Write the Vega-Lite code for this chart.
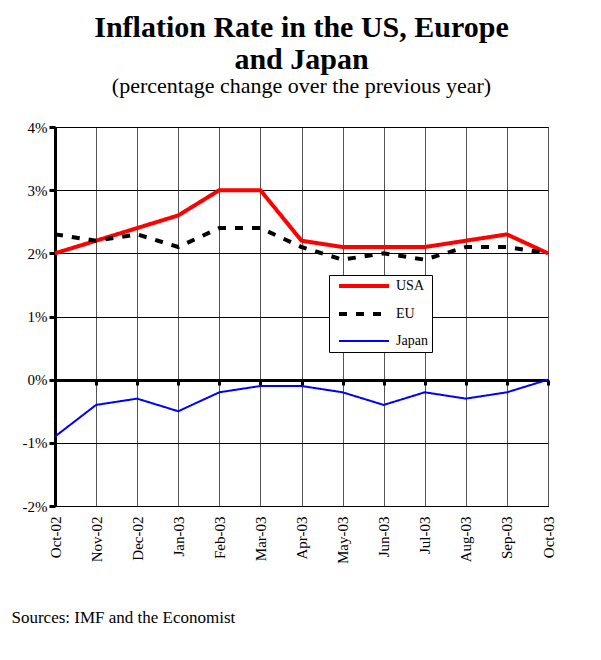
{
  "$schema": "https://vega.github.io/schema/vega-lite/v6.json",
  "width": 493,
  "height": 379,
  "autosize": {"type": "none"},
  "padding": {"left": 55, "top": 127, "right": 53, "bottom": 154},
  "background": "white",
  "title": {
    "text": ["Inflation Rate in the US, Europe", "and Japan"],
    "subtitle": "(percentage change over the previous year)",
    "font": "Liberation Serif",
    "fontSize": 30,
    "fontWeight": "bold",
    "lineHeight": 32,
    "color": "black",
    "subtitleFont": "Liberation Serif",
    "subtitleFontSize": 22,
    "subtitleColor": "black",
    "subtitlePadding": 1,
    "anchor": "middle",
    "frame": "group",
    "offset": 23
  },
  "data": {
    "values": [
      {"month": "Oct-02", "series": "USA", "rate": 2.0},
      {"month": "Nov-02", "series": "USA", "rate": 2.2},
      {"month": "Dec-02", "series": "USA", "rate": 2.4},
      {"month": "Jan-03", "series": "USA", "rate": 2.6},
      {"month": "Feb-03", "series": "USA", "rate": 3.0},
      {"month": "Mar-03", "series": "USA", "rate": 3.0},
      {"month": "Apr-03", "series": "USA", "rate": 2.2},
      {"month": "May-03", "series": "USA", "rate": 2.1},
      {"month": "Jun-03", "series": "USA", "rate": 2.1},
      {"month": "Jul-03", "series": "USA", "rate": 2.1},
      {"month": "Aug-03", "series": "USA", "rate": 2.2},
      {"month": "Sep-03", "series": "USA", "rate": 2.3},
      {"month": "Oct-03", "series": "USA", "rate": 2.0},
      {"month": "Oct-02", "series": "EU", "rate": 2.3},
      {"month": "Nov-02", "series": "EU", "rate": 2.2},
      {"month": "Dec-02", "series": "EU", "rate": 2.3},
      {"month": "Jan-03", "series": "EU", "rate": 2.1},
      {"month": "Feb-03", "series": "EU", "rate": 2.4},
      {"month": "Mar-03", "series": "EU", "rate": 2.4},
      {"month": "Apr-03", "series": "EU", "rate": 2.1},
      {"month": "May-03", "series": "EU", "rate": 1.9},
      {"month": "Jun-03", "series": "EU", "rate": 2.0},
      {"month": "Jul-03", "series": "EU", "rate": 1.9},
      {"month": "Aug-03", "series": "EU", "rate": 2.1},
      {"month": "Sep-03", "series": "EU", "rate": 2.1},
      {"month": "Oct-03", "series": "EU", "rate": 2.0},
      {"month": "Oct-02", "series": "Japan", "rate": -0.9},
      {"month": "Nov-02", "series": "Japan", "rate": -0.4},
      {"month": "Dec-02", "series": "Japan", "rate": -0.3},
      {"month": "Jan-03", "series": "Japan", "rate": -0.5},
      {"month": "Feb-03", "series": "Japan", "rate": -0.2},
      {"month": "Mar-03", "series": "Japan", "rate": -0.1},
      {"month": "Apr-03", "series": "Japan", "rate": -0.1},
      {"month": "May-03", "series": "Japan", "rate": -0.2},
      {"month": "Jun-03", "series": "Japan", "rate": -0.4},
      {"month": "Jul-03", "series": "Japan", "rate": -0.2},
      {"month": "Aug-03", "series": "Japan", "rate": -0.3},
      {"month": "Sep-03", "series": "Japan", "rate": -0.2},
      {"month": "Oct-03", "series": "Japan", "rate": 0.0}
    ]
  },
  "layer": [
    {
      "mark": {"type": "line", "clip": false},
      "encoding": {
        "x": {
          "field": "month", "type": "ordinal", "sort": null,
          "scale": {"type": "point", "padding": 0},
          "axis": {
            "orient": "bottom",
            "title": "Sources: IMF and the Economist",
            "titleFont": "Liberation Serif",
            "titleFontSize": 17,
            "titleFontWeight": "normal",
            "titleColor": "black",
            "titleAlign": "left",
            "titleBaseline": "alphabetic",
            "titleX": -44,
            "titleY": 116,
            "labelAngle": 270,
            "labelFont": "Liberation Serif",
            "labelFontSize": 15,
            "labelColor": "black",
            "labelPadding": 10,
            "ticks": false,
            "domain": true,
            "domainColor": "black",
            "domainWidth": 1,
            "grid": true,
            "gridColor": "#555555",
            "gridWidth": 1
          }
        },
        "y": {
          "field": "rate", "type": "quantitative",
          "scale": {"domain": [-2, 4], "nice": false, "zero": false},
          "axis": {
            "title": null,
            "values": [-2, -1, 0, 1, 2, 3, 4],
            "labelExpr": "datum.value + '%'",
            "labelFont": "Liberation Serif",
            "labelFontSize": 15,
            "labelColor": "black",
            "labelPadding": 2,
            "ticks": true,
            "tickSize": 6,
            "tickWidth": 3,
            "tickColor": "black",
            "domain": true,
            "domainColor": "black",
            "domainWidth": 3,
            "grid": true,
            "gridColor": "black",
            "gridWidth": 1
          }
        },
        "color": {
          "field": "series", "type": "nominal",
          "scale": {"domain": ["USA", "EU", "Japan"], "range": ["#ff0000", "#000000", "#0000ff"]},
          "legend": {
            "orient": "none",
            "legendX": 274,
            "legendY": 148,
            "title": null,
            "strokeColor": "black",
            "fillColor": "white",
            "padding": 4,
            "symbolType": "M-5,0H5",
            "symbolSize": 100,
            "symbolOffset": 24,
            "labelOffset": 25,
            "labelFont": "Liberation Serif",
            "labelFontSize": 14,
            "labelColor": "black",
            "rowPadding": 12
          }
        },
        "strokeDash": {
          "field": "series", "type": "nominal",
          "scale": {"domain": ["USA", "EU", "Japan"], "range": [[1, 0], [8, 9], [1, 0]]}
        },
        "strokeWidth": {
          "field": "series", "type": "nominal",
          "scale": {"type": "ordinal", "domain": ["USA", "EU", "Japan"], "range": [4, 4, 2]}
        }
      }
    },
    {
      "mark": {"type": "rule", "color": "black", "strokeWidth": 0},
      "encoding": {
        "x": {
          "field": "month", "type": "ordinal", "sort": null,
          "axis": {
            "orient": "top",
            "offset": -253,
            "title": null,
            "labels": false,
            "ticks": true,
            "tickSize": -5,
            "tickWidth": 3,
            "tickColor": "black",
            "domain": true,
            "domainColor": "black",
            "domainWidth": 3,
            "grid": false
          }
        },
        "y": {"datum": 0}
      }
    }
  ],
  "resolve": {"axis": {"x": "independent"}},
  "config": {
    "view": {"stroke": "black", "strokeWidth": 1},
    "font": "Liberation Serif"
  }
}
